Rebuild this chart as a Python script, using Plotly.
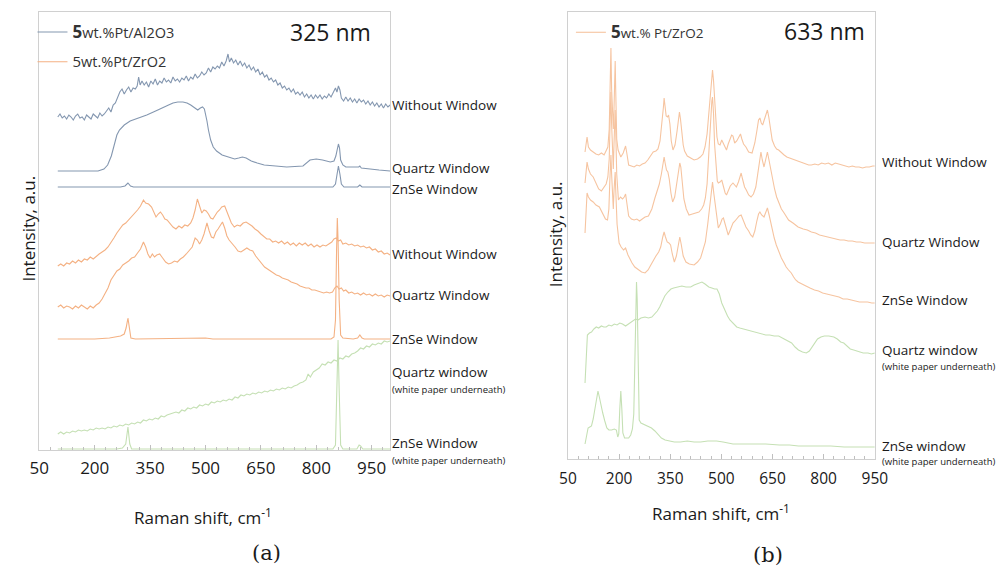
import plotly.graph_objects as go

# ---------------------------------------------------------------
# Raman spectra (x = Raman shift / cm-1, y = offset intensity, a.u.)
# ---------------------------------------------------------------

# (a) 325 nm excitation, 5wt.%Pt/Al2O3
al_without = [(100,333),(106,336),(112,332),(118,334),(124,331),(130,335),(136,333),(142,330),(148,334),(154,336),
              (160,332),(166,333),(172,330),(178,335),(184,333),(190,331),(196,336),(202,334),(208,332),(214,337),
              (220,334),(226,336),(232,339),(238,342),(244,338),(250,345),(256,347),(262,352),(268,358),(274,361),
              (280,356),(286,360),(292,363),(298,358),(304,362),(310,361),(315,364),(319,373),(323,365),(328,369),
              (334,365),(340,368),(346,363),(352,369),(358,366),(364,371),(370,365),(376,369),(382,367),(388,372),
              (394,368),(400,370),(406,367),(412,373),(418,369),(424,371),(430,368),(436,372),(442,370),(448,374),
              (454,369),(460,373),(466,371),(472,376),(478,372),(484,374),(490,378),(496,375),(502,377),(508,382),
              (514,378),(520,383),(526,381),(532,384),(538,382),(544,388),(550,384),(556,389),(561,396),(565,388),
              (570,392),(576,387),(582,390),(588,385),(594,389),(600,384),(606,387),(612,382),(618,385),(624,380),
              (630,383),(636,378),(642,381),(648,375),(654,378),(660,373),(666,375),(672,370),(678,372),(684,368),
              (690,370),(696,365),(702,367),(708,362),(714,364),(720,360),(726,362),(732,358),(738,361),(744,356),
              (750,358),(756,355),(762,358),(768,353),(774,356),(780,352),(786,355),(792,351),(798,355),(804,352),
              (810,355),(816,351),(822,354),(828,352),(834,356),(840,353),(846,357),(852,362),(856,358),(860,364),
              (864,360),(868,352),(874,349),(880,353),(886,349),(892,352),(898,348),(904,351),(910,347),(916,351),
              (922,348),(928,350),(934,346),(940,349),(946,345),(952,348),(958,344),(964,347),(970,343),(976,346),
              (982,342),(988,346),(994,343),(1000,345)]

al_quartz = [(100,279),(209,279),(225,281),(235,285),(245,294),(254,307),(260,315),(267,320),(280,325),(296,329),
             (320,332),(341,335),(365,339),(386,343),(400,345),(412,347),(425,348),(439,348),(450,347),(460,345),
             (470,342),(479,340),(486,342),(492,343),(497,341),(500,337),(504,329),(508,320),(514,310),(521,303),
             (530,299),(545,295),(560,293),(579,291),(590,292),(600,293),(610,292),(624,289),(640,287),(659,285),
             (690,284),(720,283),(764,284),(775,287),(783,290),(800,291),(817,290),(838,288),(848,289),(853,294),
             (857,303),(860,306),(863,302),(866,290),(872,285),(880,283),(915,283),(918,284),(922,282),(942,281),
             (970,280),(1000,279)]

al_znse = [(100,263),(270,263),(282,264),(290,267),(297,264),(305,263),(845,263),(852,266),(856,275),(860,284),
           (864,276),(868,266),(875,263),(912,263),(918,265),(924,263),(1000,263)]

# (a) 325 nm excitation, 5wt.%Pt/ZrO2
zr_a_without = [(100,184),(108,186),(116,184),(124,187),(132,186),(140,189),(148,187),(156,190),(164,188),(172,191),
                (180,190),(188,193),(196,191),(204,194),(212,196),(220,198),(228,200),(236,203),(244,207),(252,212),
                (260,217),(268,221),(276,225),(284,227),(292,230),(300,233),(308,236),(316,240),(324,244),(332,250),
                (338,247),(346,246),(354,243),(360,237),(366,233),(372,236),(378,238),(384,235),(390,231),(396,230),
                (404,226),(412,223),(420,221),(428,224),(436,222),(444,225),(452,224),(460,227),(466,232),(472,240),
                (478,251),(484,244),(490,237),(496,240),(502,239),(508,236),(514,232),(520,231),(526,235),(532,238),
                (538,240),(544,243),(552,244),(558,238),(564,231),(570,227),(578,223),(586,225),(594,224),(602,227),
                (610,228),(618,226),(626,224),(634,221),(642,219),(650,216),(658,213),(666,211),(674,211),(682,208),
                (690,209),(698,207),(706,209),(714,206),(722,208),(730,205),(738,207),(746,204),(754,207),(762,205),
                (770,207),(778,204),(786,206),(794,203),(802,205),(810,203),(818,205),(826,204),(834,206),(842,208),
                (848,211),(854,212),(860,209),(866,210),(872,206),(880,207),(888,205),(896,206),(904,204),(912,205),
                (920,203),(928,204),(936,202),(944,203),(952,200),(960,201),(968,198),(976,199),(984,196),(992,197),
                (1000,195)]

zr_a_quartz = [(100,143),(108,145),(116,142),(124,144),(132,143),(140,141),(148,144),(156,142),(164,145),(172,143),
               (180,141),(188,144),(196,142),(204,145),(212,147),(220,151),(228,157),(236,162),(244,170),(252,175),
               (260,179),(268,181),(276,185),(284,187),(292,189),(300,192),(308,193),(316,197),(324,201),(332,208),
               (338,203),(344,196),(350,192),(356,196),(362,193),(368,195),(376,196),(384,192),(392,188),(400,186),
               (408,187),(416,189),(424,188),(432,191),(440,193),(448,196),(456,200),(464,203),(472,212),(478,210),
               (484,206),(490,210),(496,216),(504,227),(510,219),(516,213),(522,212),(528,218),(534,221),(540,224),
               (546,228),(552,222),(558,214),(564,210),(572,207),(580,203),(588,199),(596,198),(604,200),(612,202),
               (620,200),(628,199),(636,194),(644,190),(652,186),(660,183),(668,181),(676,179),(684,177),(692,175),
               (700,174),(708,172),(716,171),(724,170),(732,168),(740,167),(748,166),(756,164),(764,163),(772,162),
               (780,162),(788,160),(796,160),(804,159),(812,158),(820,157),(828,158),(836,157),(844,158),(850,162),
               (856,164),(862,161),(868,162),(874,159),(880,160),(888,157),(896,158),(904,156),(912,157),(920,155),
               (928,157),(936,155),(944,156),(952,154),(960,156),(968,154),(976,155),(984,153),(992,155),(1000,154)]

zr_a_znse = [(100,111),(150,111),(200,111),(240,112),(255,113),(270,114),(280,116),(285,122),(290,132),(294,122),
             (298,112),(310,111),(500,112),(520,111),(840,111),(848,113),(852,130),(855,200),(857,232),(859,210),
             (862,150),(866,115),(872,112),(900,111),(912,112),(918,115),(924,112),(930,111),(1000,111)]

# (a) bare windows on white paper
paper_a_quartz = [(100,16),(108,18),(116,16),(124,18),(132,17),(140,19),(148,18),(156,20),(164,19),(172,20),
                  (180,19),(188,21),(196,20),(204,22),(212,21),(220,22),(228,21),(236,23),(244,22),(252,24),
                  (260,23),(268,25),(276,24),(284,26),(292,25),(300,27),(308,26),(316,28),(324,27),(332,30),
                  (340,29),(348,31),(356,30),(364,32),(372,31),(380,34),(388,33),(396,35),(404,36),(412,37),
                  (420,38),(428,37),(436,40),(444,39),(452,42),(460,41),(468,43),(476,42),(484,45),(492,44),
                  (500,46),(508,45),(516,48),(524,47),(532,49),(540,48),(548,50),(556,49),(564,51),(572,50),
                  (580,53),(588,52),(596,55),(604,54),(612,56),(620,55),(628,57),(636,56),(644,58),(652,57),
                  (660,59),(668,58),(676,60),(684,59),(692,61),(700,60),(708,62),(716,61),(724,63),(732,62),
                  (740,64),(748,65),(756,67),(764,68),(772,70),(778,76),(784,73),(792,78),(800,80),(808,82),
                  (816,86),(824,85),(832,88),(840,87),(848,90),(856,89),(864,92),(872,91),(880,94),(888,93),
                  (896,96),(904,97),(912,99),(920,102),(928,101),(936,104),(944,103),(952,106),(960,105),(968,107),
                  (976,106),(984,109),(992,108),(1000,109)]

paper_a_znse = [(100,1),(260,1),(275,2),(284,6),(290,23),(295,6),(300,1),(845,1),(852,5),(856,60),(859,110),
                (862,60),(866,5),(872,1),(910,1),(916,5),(920,4),(926,1),(1000,1)]

# (b) 633 nm excitation, 5wt.% Pt/ZrO2
zr_b_without = [(100,307),(103,318),(106,322),(110,312),(116,309),(124,307),(132,305),(140,304),(148,306),(156,304),
                (162,309),(167,312),(171,330),(174,380),(176,411),(178,370),(181,335),(183,330),(185,350),(187,390),
                (188.5,398),(190,370),(193,320),(197,309),(205,302),(212,306),(216,311),(219,313),(223,305),(228,294),
                (236,293),(244,292),(252,294),(260,293),(268,295),(276,296),(284,299),(292,303),(300,307),(308,308),
                (314,310),(320,318),(326,335),(330,352),(332,361),(335,352),(338,343),(342,342),(345,344),(349,335),
                (353,318),(358,309),(364,314),(370,328),(374,340),(377,347),(380,340),(384,325),(388,314),(392,308),
                (400,303),(410,301),(420,299),(430,300),(438,302),(446,305),(452,312),(458,325),(464,350),(468,370),
                (472,385),(474,389),(477,378),(480,360),(483,340),(487,322),(491,315),(496,314),(501,319),(505,316),
                (510,311),(515,309),(520,315),(525,320),(530,324),(534,323),(539,316),(545,318),(551,322),(556,325),
                (560,320),(565,315),(572,312),(580,307),(590,306),(598,316),(604,328),(609,339),(613,341),(617,336),
                (621,334),(626,340),(631,346),(635,349),(639,342),(644,330),(649,319),(656,313),(662,310),(668,309),
                (676,306),(684,304),(692,302),(700,301),(710,299),(718,298),(726,297),(736,296),(746,295),(756,294),
                (764,294),(774,295),(784,294),(794,296),(804,295),(814,296),(824,294),(834,296),(844,295),(854,294),
                (864,293),(874,292),(884,293),(894,292),(904,292),(914,291),(924,292),(934,292),(944,293),(950,293)]

zr_b_quartz = [(100,276),(103,290),(106,297),(110,290),(116,285),(124,282),(132,276),(140,270),(148,268),(156,272),
               (162,275),(167,282),(171,300),(174,345),(176,367),(178,335),(181,295),(183,290),(185,315),(187,340),
               (188.5,349),(190,330),(193,285),(198,259),(204,262),(210,260),(215,262),(219,265),(223,255),(228,243),
               (236,240),(244,239),(252,240),(260,238),(268,240),(276,242),(286,243),(296,250),(305,261),(312,268),
               (318,275),(324,285),(328,295),(332,302),(335,296),(339,289),(343,287),(347,280),(352,266),(357,257),
               (363,262),(369,275),(374,288),(378,296),(381,292),(385,275),(390,260),(397,250),(405,244),(415,245),
               (425,246),(434,247),(442,250),(448,254),(453,261),(458,275),(463,305),(468,340),(472,358),(474,362),
               (477,345),(480,315),(484,290),(488,278),(491,276),(496,277),(501,279),(506,272),(511,266),(515,264),
               (520,268),(526,273),(534,276),(540,273),(544,272),(550,277),(555,283),(558,286),(562,280),(568,272),
               (573,269),(580,264),(587,262),(594,265),(601,272),(607,285),(612,300),(616,307),(620,299),(625,292),
               (629,298),(632,304),(635,307),(639,300),(644,290),(649,282),(656,270),(662,262),(668,256),(676,250),
               (684,246),(697,239),(710,236),(725,232),(740,230),(752,229),(764,227),(776,226),(788,224),(800,223),
               (812,222),(824,221),(836,220),(848,219),(860,219),(872,218),(884,218),(896,217),(908,217),(920,216),
               (932,216),(944,216),(950,216)]

zr_b_znse = [(100,226),(103,255),(106,266),(110,262),(116,259),(124,257),(132,254),(142,252),(152,246),(160,240),
             (166,239),(170,250),(173,280),(176,304),(178,285),(181,255),(183,250),(185,268),(187,283),(188.5,287),
             (190,270),(194,235),(200,216),(206,212),(213,209),(219,211),(226,204),(232,199),(238,196),(246,192),
             (257,189),(266,187),(276,186),(285,189),(293,194),(300,199),(308,203),(316,207),(322,212),(328,222),
             (332,227),(336,222),(341,217),(346,216),(351,214),(356,205),(362,197),(368,203),(373,214),(378,222),
             (382,215),(388,203),(396,197),(406,195),(420,194),(430,197),(439,201),(446,208),(453,217),(460,235),
             (466,255),(471,272),(474,277),(478,265),(482,255),(486,247),(491,231),(497,235),(502,240),(506,241),
             (511,235),(516,228),(520,224),(526,229),(531,234),(534,236),(540,238),(546,241),(552,243),(558,244),
             (564,238),(572,232),(580,228),(586,224),(592,222),(598,228),(604,238),(609,245),(613,247),(618,244),
             (625,242),(630,246),(635,251),(640,244),(645,236),(649,229),(655,221),(661,214),(668,207),(676,201),
             (684,196),(690,192),(697,189),(705,186),(712,182),(718,179),(725,177),(735,175),(748,173),(760,171),
             (773,169),(785,168),(797,166),(809,165),(821,164),(833,163),(845,162),(857,160),(869,160),(881,159),
             (893,158),(905,157),(917,157),(929,157),(941,156),(950,156)]

# (b) bare windows on white paper
paper_b_quartz = [(100,76),(103,105),(105,118),(107,124),(113,126),(119,127),(126,130),(133,132),(140,131),(148,133),
                  (155,132),(162,132),(170,134),(178,133),(186,135),(194,134),(202,136),(210,135),(219,133),(228,135),
                  (238,137),(248,140),(256,139),(264,141),(276,142),(286,141),(296,142),(304,145),(312,148),(319,152),
                  (326,157),(334,163),(343,167),(352,170),(360,171),(372,172),(384,173),(396,172),(410,172),(420,174),
                  (430,175),(443,177),(452,175),(463,172),(472,171),(480,170),(487,170),(494,165),(501,156),(510,148),
                  (518,143),(525,139),(535,135),(545,132),(554,131),(565,130),(578,129),(592,127),(605,126),(618,125),
                  (630,124),(642,124),(655,123),(668,123),(680,121),(694,118),(706,116),(716,112),(726,109),(738,107),
                  (749,106),(758,108),(766,112),(773,116),(782,120),(792,122),(802,123),(815,123),(830,122),(840,120),
                  (850,117),(859,116),(868,113),(878,110),(888,109),(900,108),(916,106),(930,106),(940,105),(950,106)]

paper_b_znse = [(100,15),(105,24),(109,31),(114,32),(119,33),(124,40),(130,52),(135,63),(138,68),(142,62),
                (147,52),(152,46),(158,38),(164,31),(170,29),(178,29),(186,30),(192,29),(196,22),(199,25),
                (202,50),(205,68),(208,50),(211,26),(216,21),(222,21),(228,21),(234,24),(239,30),(243,45),
                (246,100),(249,160),(251,177),(253,160),(256,90),(259,39),(264,36),(270,35),(276,34),(285,32),
                (295,31),(305,28),(315,24),(324,21),(335,19),(350,18),(362,17),(380,17),(400,18),(420,17),
                (439,17),(460,18),(486,18),(505,17),(520,16),(534,15),(560,15),(590,15),(630,15),(670,14),
                (700,14),(726,13),(760,13),(800,13),(821,13),(860,12),(900,12),(950,12)]

# text content
labels_a = ["Without Window", "Quartz Window", "ZnSe Window", "Without Window", "Quartz Window",
            "ZnSe Window", "Quartz window", "(white paper underneath)", "ZnSe Window", "(white paper underneath)"]
labels_b = ["Without Window", "Quartz Window", "ZnSe Window", "Quartz window", "(white paper underneath)",
            "ZnSe window", "(white paper underneath)"]
legend_al = "<span style='font-size:17px'><b>5</b></span>wt.%Pt/Al2O3"
legend_zr_a = "<span style='font-size:15px'>5</span>wt.%Pt/ZrO2"
legend_zr_b = "<span style='font-size:17px'><b>5</b></span>wt.% Pt/ZrO2"
tick_vals = [50, 200, 350, 500, 650, 800, 950]

# ---------------------------------------------------------------
W, H = 1008, 572
BLUE = "#8497b0"
ORANGE_A = "#f4b183"
ORANGE_B = "#f6c4a0"
GREEN = "#c5e0b4"
FONT = "Open Sans"
TXT = "#1a1a1a"
FRAME = "#d0d0d0"


def unzip(pairs):
    return [p[0] for p in pairs], [p[1] for p in pairs]


fig = go.Figure()


def add(pairs, color, panel, name=None, legend=None, group=None):
    xs, ys = unzip(pairs)
    fig.add_trace(go.Scatter(
        x=xs, y=ys, mode="lines",
        line=dict(color=color, width=1.1),
        xaxis="x" if panel == 1 else "x2",
        yaxis="y" if panel == 1 else "y2",
        name=name or "",
        showlegend=name is not None,
        legend=legend or "legend",
        legendgroup=group,
        hoverinfo="skip",
    ))


add(al_without, BLUE, 1, legend_al, "legend", "al")
add(al_quartz, BLUE, 1)
add(al_znse, BLUE, 1)
add(zr_a_without, ORANGE_A, 1, legend_zr_a, "legend", "zr")
add(zr_a_quartz, ORANGE_A, 1)
add(zr_a_znse, ORANGE_A, 1)
add(paper_a_quartz, GREEN, 1)
add(paper_a_znse, GREEN, 1)

add(zr_b_without, ORANGE_B, 2, legend_zr_b, "legend2", "zrb")
add(zr_b_quartz, ORANGE_B, 2)
add(zr_b_znse, ORANGE_B, 2)
add(paper_b_quartz, GREEN, 2)
add(paper_b_znse, GREEN, 2)


def px_x(v):
    return v / W


def px_y(v):
    return 1 - v / H


xcommon = dict(
    tickmode="array", tickvals=tick_vals, ticktext=[str(t) for t in tick_vals],
    ticks="inside", ticklen=5, tickcolor="#bfbfbf",
    minor=dict(ticks="inside", ticklen=3, dtick=30, tick0=50, tickcolor="#bfbfbf"),
    showline=True, linecolor=FRAME, linewidth=1, mirror=True,
    showgrid=False, zeroline=False, fixedrange=True,
)
ycommon = dict(showline=True, linecolor=FRAME, linewidth=1, mirror=True,
               showgrid=False, zeroline=False, showticklabels=False, ticks="", fixedrange=True)

fig.update_layout(
    width=W, height=H, margin=dict(l=0, r=0, t=0, b=0),
    paper_bgcolor="white", plot_bgcolor="white",
    font=dict(family=FONT, color=TXT),
    xaxis=dict(domain=[px_x(30), px_x(389)], range=[50, 1000], anchor="y",
               tickfont=dict(size=17, color=TXT), ticklabelstandoff=3, **xcommon),
    yaxis=dict(domain=[px_y(450), px_y(12)], range=[0, 438], anchor="x", **ycommon),
    xaxis2=dict(domain=[px_x(571), px_x(885)], range=[50, 950], anchor="y2",
                tickfont=dict(size=15.5, color=TXT), ticklabelstandoff=5, **xcommon),
    yaxis2=dict(domain=[px_y(459), px_y(12)], range=[0, 447], anchor="x2", **ycommon),
    legend=dict(x=px_x(23), y=px_y(16), xanchor="left", yanchor="top",
                font=dict(size=14.5, color="#333333"), bgcolor="rgba(0,0,0,0)",
                traceorder="grouped", tracegroupgap=8, itemwidth=30),
    legend2=dict(x=px_x(574), y=px_y(17), xanchor="left", yanchor="top",
                 font=dict(size=13.5, color="#333333"), bgcolor="rgba(0,0,0,0)", itemwidth=30),
)

ann = []


def text(s, x, y, size, **kw):
    d = dict(text=s, x=px_x(x), y=px_y(y), xref="paper", yref="paper", showarrow=False,
             font=dict(family=kw.pop("family", FONT), size=size, color=kw.pop("color", TXT)),
             xanchor=kw.pop("xanchor", "left"), yanchor="middle")
    d.update(kw)
    ann.append(d)


# spectrum labels beside each panel
ys_a = [105, 168, 189, 254, 295, 339, 372, 389, 443, 460]
for s, y in zip(labels_a, ys_a):
    text(s, 389, y, 9.5 if s.startswith("(") else 13.5)
ys_b = [162, 242, 300, 350, 366, 446, 461]
for s, y in zip(labels_b, ys_b):
    text(s, 890, y, 9.5 if s.startswith("(") else 13.5)

# excitation wavelengths
text("325 nm", 328, 32, 23, xanchor="center")
text("633 nm", 834, 31, 23, xanchor="center")

# axis titles
text("Raman shift, cm<sup>-1</sup>", 197, 516, 17, xanchor="center")
text("Raman shift, cm<sup>-1</sup>", 728, 512, 17, xanchor="center")
text("Intensity, a.u.", 18, 229, 17, xanchor="center", textangle=-90)
text("Intensity, a.u.", 558, 234, 17, xanchor="center", textangle=-90)

# panel captions
text("(a)", 262, 553, 21, xanchor="center", family="DejaVu Serif")
text("(b)", 776, 555, 21, xanchor="center", family="DejaVu Serif")

fig.update_layout(annotations=ann)
fig.write_html("out.html")
